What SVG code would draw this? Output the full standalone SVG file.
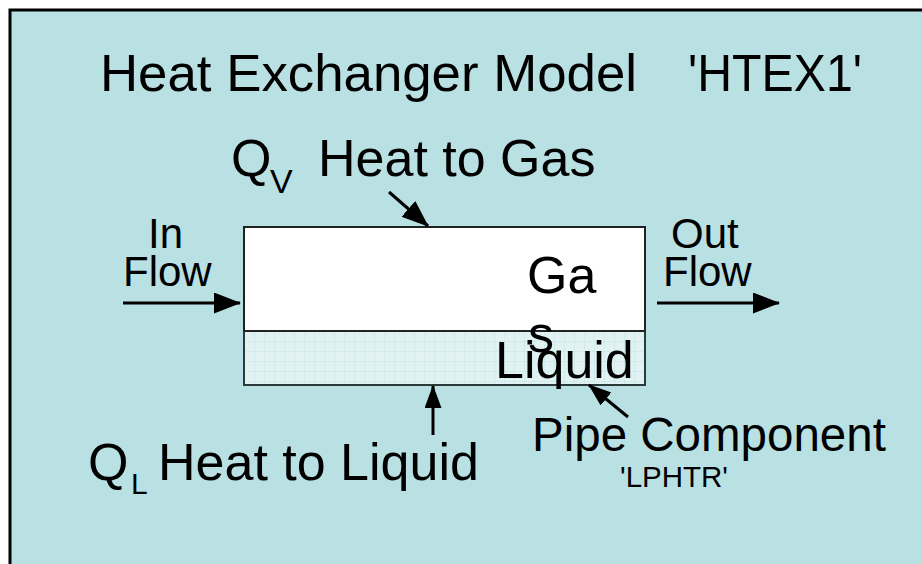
<svg xmlns="http://www.w3.org/2000/svg" width="922" height="564" viewBox="0 0 922 564">
<style>
text{font-family:"Liberation Sans",Arial,sans-serif;fill:#000;}
.big{font-size:52px;}
.mid{font-size:42px;}
.conn{stroke:#000;stroke-width:3;fill:none;}
</style>
<defs>
<marker id="ah" markerUnits="userSpaceOnUse" markerWidth="27" markerHeight="22" refX="26" refY="10.5" orient="auto">
<path d="M0,0 L27,10.5 L0,21 Z" fill="#000"/>
</marker>
<marker id="ahs" markerUnits="userSpaceOnUse" markerWidth="24" markerHeight="18" refX="22" refY="8.5" orient="auto">
<path d="M0,0 L23,8.5 L0,17 Z" fill="#000"/>
</marker>
<pattern id="grid" patternUnits="userSpaceOnUse" x="244" y="331" width="10" height="10">
<rect width="10" height="10" fill="#E2F2F3"/>
<path d="M0,0 H10 M0,0 V10" stroke="#C2E4E7" stroke-width="1"/>
</pattern>
</defs>
<rect x="0" y="0" width="922" height="564" fill="#FFFFFF"/>
<rect x="10" y="10" width="930" height="570" fill="#B9E0E3" stroke="#000" stroke-width="3"/>

<g id="title">
<text class="big" x="100" y="91" textLength="537" lengthAdjust="spacingAndGlyphs">Heat Exchanger Model</text>
<text class="big" x="688" y="91" textLength="174" lengthAdjust="spacingAndGlyphs">'HTEX1'</text>
</g>

<g id="pipe">
<rect x="244" y="331" width="401" height="54" fill="url(#grid)" stroke="#2A3A3A" stroke-width="2"/>
<rect x="244" y="227" width="401" height="104" fill="#FFFFFF" stroke="#222" stroke-width="2"/>
<text class="big" x="527" y="293">Ga</text>
<text class="big" x="528" y="352">s</text>
<text class="big" x="495" y="378">Liquid</text>
</g>

<g id="qv-label">
<text class="big" x="231" y="176">Q</text>
<text x="270" y="193" style="font-size:34px">V</text>
<text class="big" x="318" y="176">Heat to Gas</text>
</g>

<g id="in-label">
<text class="mid" x="148" y="248">In</text>
<text class="mid" x="123" y="286">Flow</text>
</g>

<g id="out-label">
<text class="mid" x="671" y="248">Out</text>
<text class="mid" x="663" y="286">Flow</text>
</g>

<g id="ql-label">
<text class="big" x="88" y="480">Q</text>
<text x="131" y="494" style="font-size:30px">L</text>
<text class="big" x="158" y="480">Heat to Liquid</text>
</g>

<g id="pipe-label">
<text x="532" y="451" style="font-size:47.5px">Pipe Component</text>
<text x="620" y="487" style="font-size:29.5px">'LPHTR'</text>
</g>

<g id="connectors">
<line class="conn" x1="123" y1="303" x2="240" y2="303" marker-end="url(#ah)"/>
<line class="conn" x1="657" y1="303" x2="779" y2="303" marker-end="url(#ah)"/>
<line class="conn" x1="389" y1="192" x2="428" y2="226" marker-end="url(#ah)"/>
<line class="conn" x1="433" y1="435" x2="433" y2="386" marker-end="url(#ahs)"/>
<line class="conn" x1="628" y1="417" x2="589" y2="385" marker-end="url(#ahs)"/>
</g>
</svg>
